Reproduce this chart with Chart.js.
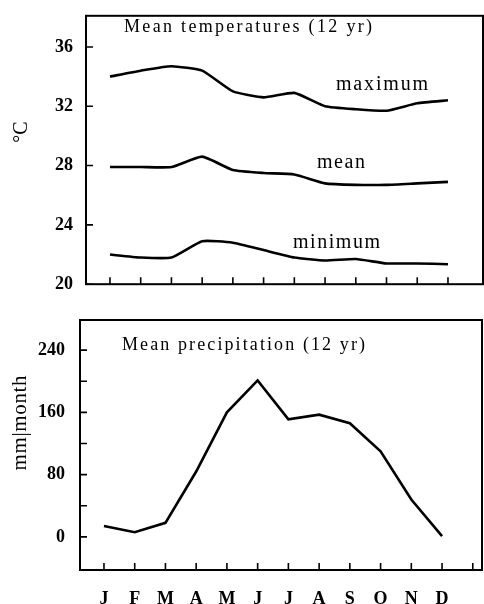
<!DOCTYPE html>
<html>
<head>
<meta charset="utf-8">
<script src="https://cdn.jsdelivr.net/npm/chart.js@4.4.0/dist/chart.umd.min.js"></script>
<style>
  body { margin: 0; background: #fff; }
  #wrap { position: relative; width: 484px; height: 604px; }
  .box { position: absolute; left: 0; width: 484px; }
  #top { top: 0; height: 300px; }
  #bottom { top: 300px; height: 304px; }
</style>
</head>
<body>
<div id="wrap">
  <div class="box" id="top"><canvas id="tempChart"></canvas></div>
  <div class="box" id="bottom"><canvas id="rainChart"></canvas></div>
</div>
<script>
"use strict";

// values
const months = ["J", "F", "M", "A", "M", "J", "J", "A", "S", "O", "N", "D"];
const tempMax = [34.0, 34.4, 34.7, 34.4, 33.0, 32.6, 32.9, 32.0, 31.8, 31.7, 32.2, 32.4];
const tempMean = [27.9, 27.9, 27.9, 28.6, 27.7, 27.5, 27.4, 26.8, 26.7, 26.7, 26.8, 26.9];
const tempMin = [22.0, 21.8, 21.8, 22.9, 22.8, 22.3, 21.8, 21.6, 21.7, 21.4, 21.4, 21.35];
const precip = [14, 6, 18, 84, 160, 201, 151, 157, 146, 110, 48, 1];

const tempTicks = [20, 24, 28, 32, 36];
const precipTicks = [0, 40, 80, 120, 160, 200, 240];
const precipLabelled = [0, 80, 160, 240];
const topMonthTicks = [0, 1, 2, 3, 4, 5, 6, 7, 8, 9, 10, 11];
const bottomMonthTicks = [0, 1, 2, 3, 4, 5, 6, 7, 8, 9, 10, 11, 12];

const serif = "'Liberation Serif', 'DejaVu Serif', serif";

function toPoints(values) {
  return values.map((v, i) => ({ x: i, y: v }));
}

function lineSet(values) {
  return {
    data: toPoints(values),
    borderColor: "#000",
    borderWidth: 2.6,
    pointRadius: 0,
    tension: 0.15,
    fill: false,
  };
}

// fit a string to a given width by spreading the letters, returns the width
function spreadText(ctx, t) {
  ctx.font = t.size + "px " + serif;
  ctx.letterSpacing = "0px";
  const w = ctx.measureText(t.text).width;
  if (!t.width) return w;
  const sp = (t.width - w) / (t.text.length - 1);
  ctx.letterSpacing = sp + "px";
  return t.width;
}

// box round the plot, inward tick marks and the free text
const frame = {
  id: "frame",
  afterDraw(chart, args, opts) {
    const ctx = chart.ctx;
    const a = chart.chartArea;
    const xs = chart.scales.x;
    const ys = chart.scales.y;
    ctx.save();
    ctx.strokeStyle = "#000";
    ctx.lineWidth = 2;
    ctx.strokeRect(a.left, a.top, a.right - a.left, a.bottom - a.top);

    ctx.lineWidth = 1.6;
    ctx.beginPath();
    xs.ticks.forEach((t) => {
      const px = xs.getPixelForValue(t.value);
      ctx.moveTo(px, a.bottom);
      ctx.lineTo(px, a.bottom - 7);
    });
    ys.ticks.forEach((t) => {
      const py = ys.getPixelForValue(t.value);
      ctx.moveTo(a.left, py);
      ctx.lineTo(a.left + 7, py);
    });
    ctx.stroke();

    ctx.fillStyle = "#000";
    ctx.textBaseline = "alphabetic";
    ctx.textAlign = "left";
    (opts.texts || []).forEach((t) => {
      spreadText(ctx, t);
      ctx.fillText(t.text, t.x, t.y);
    });

    // rotated axis titles, given by their centre
    (opts.vtexts || []).forEach((t) => {
      const w = spreadText(ctx, t);
      ctx.save();
      ctx.translate(t.x, t.y);
      ctx.rotate(-Math.PI / 2);
      ctx.textBaseline = "middle";
      ctx.fillText(t.text, -w / 2, 0);
      ctx.restore();
    });
    ctx.letterSpacing = "0px";
    ctx.restore();
  },
};

const tempChart = new Chart(document.getElementById("tempChart"), {
  type: "line",
  data: {
    datasets: [lineSet(tempMax), lineSet(tempMean), lineSet(tempMin)],
  },
  options: {
    responsive: true,
    maintainAspectRatio: false,
    animation: false,
    layout: { padding: { top: 10, right: 1, left: 0, bottom: 0 } },
    plugins: {
      legend: { display: false },
      tooltip: { enabled: false },
      frame: {
        texts: [
          { text: "Mean temperatures (12 yr)", x: 124, y: 32, size: 18, width: 248 },
          { text: "maximum", x: 336, y: 90, size: 20, width: 92 },
          { text: "mean", x: 317, y: 168, size: 20, width: 48 },
          { text: "minimum", x: 293, y: 248, size: 20, width: 87 },
        ],
        vtexts: [
          { text: "°C", x: 22, y: 132, size: 20 },
        ],
      },
    },
    scales: {
      x: {
        type: "linear",
        min: -0.78,
        max: 12.14,
        afterBuildTicks: (s) => { s.ticks = topMonthTicks.map((v) => ({ value: v })); },
        afterFit: (s) => { s.height = 10; },
        grid: { display: false },
        border: { display: false },
        ticks: { display: false },
      },
      y: {
        min: 20,
        max: 38.1,
        afterBuildTicks: (s) => { s.ticks = tempTicks.map((v) => ({ value: v })); },
        afterFit: (s) => { s.width = 86; },
        grid: { display: false },
        border: { display: false },
        ticks: {
          color: "#000",
          padding: 5,
          font: { family: serif, size: 18, weight: "bold" },
        },
      },
    },
  },
  plugins: [frame],
});

const rainChart = new Chart(document.getElementById("rainChart"), {
  type: "line",
  data: {
    datasets: [Object.assign(lineSet(precip), { tension: 0 })],
  },
  options: {
    responsive: true,
    maintainAspectRatio: false,
    animation: false,
    layout: { padding: { top: 20, right: 2, left: 0, bottom: 0 } },
    plugins: {
      legend: { display: false },
      tooltip: { enabled: false },
      frame: {
        texts: [
          { text: "Mean precipitation (12 yr)", x: 122, y: 50, size: 18, width: 243 },
        ],
        vtexts: [
          { text: "mm|month", x: 20, y: 123, size: 21, width: 95 },
        ],
      },
    },
    scales: {
      x: {
        type: "linear",
        min: -0.78,
        max: 12.3,
        afterBuildTicks: (s) => { s.ticks = bottomMonthTicks.map((v) => ({ value: v })); },
        afterFit: (s) => { s.height = 34; },
        grid: { display: false },
        border: { display: false },
        ticks: {
          color: "#000",
          padding: 11,
          autoSkip: false,
          maxRotation: 0,
          font: { family: serif, size: 18, weight: "bold" },
          callback: (v) => months[v] || "",
        },
      },
      y: {
        min: -42.6,
        max: 278.7,
        afterBuildTicks: (s) => { s.ticks = precipTicks.map((v) => ({ value: v })); },
        afterFit: (s) => { s.width = 80; },
        grid: { display: false },
        border: { display: false },
        ticks: {
          color: "#000",
          padding: 7,
          font: { family: serif, size: 18, weight: "bold" },
          callback: (v) => (precipLabelled.includes(v) ? String(v) : ""),
        },
      },
    },
  },
  plugins: [frame],
});
</script>
</body>
</html>
